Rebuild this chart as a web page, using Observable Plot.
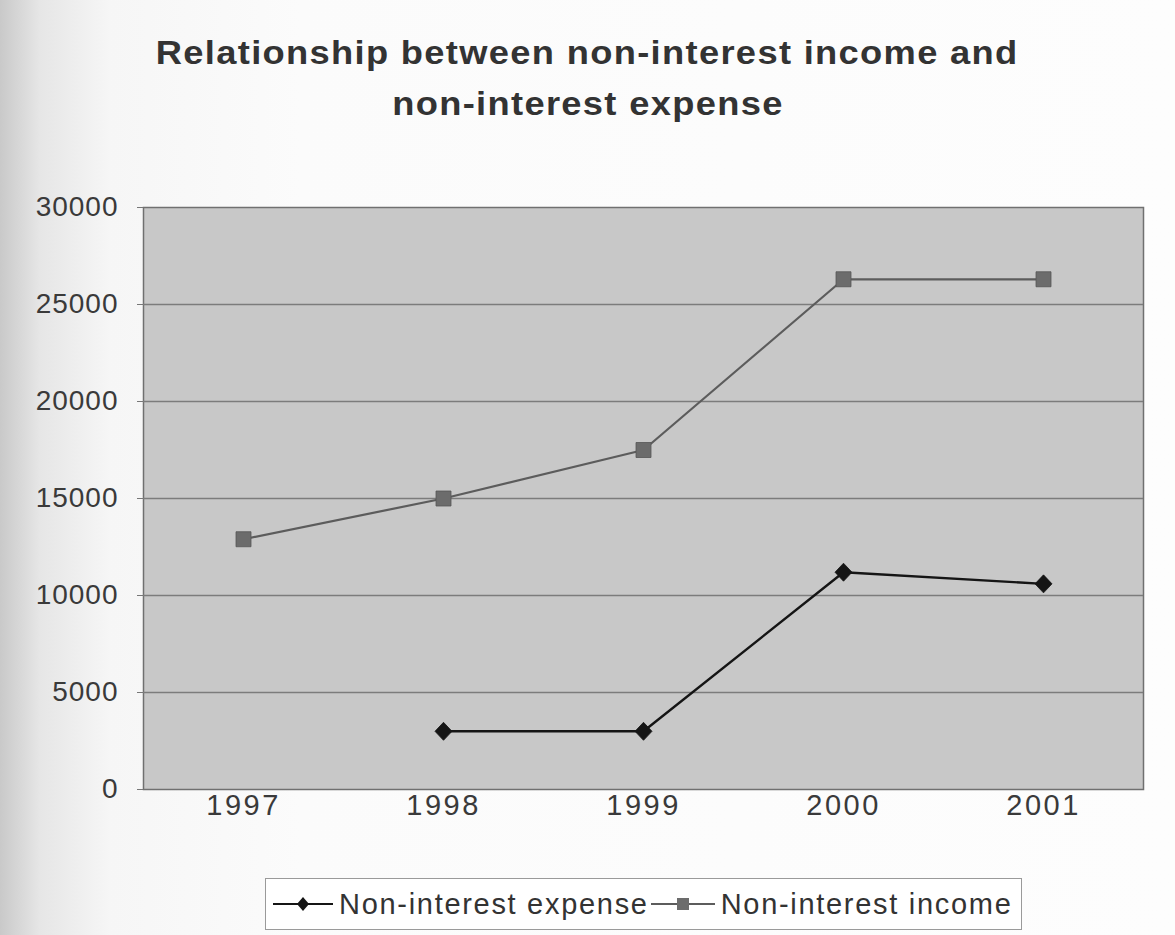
<!DOCTYPE html>
<html>
<head>
<meta charset="utf-8">
<script src="https://cdn.jsdelivr.net/npm/d3@7"></script>
<script src="https://cdn.jsdelivr.net/npm/@observablehq/plot@0.6"></script>
<style>
  html, body { margin: 0; padding: 0; }
  body {
    width: 1175px; height: 935px; position: relative; overflow: hidden;
    font-family: "Liberation Sans", Arial, sans-serif;
    background: linear-gradient(to right, #c9c9c9 0px, #e6e6e6 40px, #f6f6f6 110px, #fbfbfb 300px, #fdfdfd 100%);
  }
  #title {
    position: absolute; left: 0; top: 27px; width: 1175px; text-align: center;
    font-size: 33px; font-weight: bold; line-height: 51px; color: #333; letter-spacing: 1.2px;
  }
  #title span { display: inline-block; transform: scaleX(1.1); transform-origin: center; }
  #chart { position: absolute; left: 0; top: 175px; }
  #legend {
    position: absolute; left: 265px; top: 878px; width: 757px; height: 52px;
    border: 1px solid #9a9a9a; background: #fff; box-sizing: border-box;
    display: flex; align-items: center; font-size: 29px; color: #333;
  }
  #legend .item { display: flex; align-items: center; }
  #legend svg { display: block; }
</style>
</head>
<body>
<div id="title"><span>Relationship between non-interest income and</span><br><span>non-interest expense</span></div>
<div id="chart"></div>
<div id="legend"></div>
<script>
// Years on the category axis
const years = ["1997", "1998", "1999", "2000", "2001"];
// Non-interest expense (no figure reported for 1997)
const expense = [null, 3000, 3000, 11200, 10600];
// Non-interest income
const income = [12900, 15000, 17500, 26300, 26300];
// Value axis ticks
const yTicks = [0, 5000, 10000, 15000, 20000, 25000, 30000];

const seriesNames = ["Non-interest expense", "Non-interest income"];

const expenseRows = years.map((year, i) => ({year, value: expense[i]})).filter(d => d.value != null);
const incomeRows = years.map((year, i) => ({year, value: income[i]}));

// Marker shapes: a rotated square and a plain square
const diamond = {
  draw(ctx) {
    const w = 8.5, h = 9;
    ctx.moveTo(0, -h); ctx.lineTo(w, 0); ctx.lineTo(0, h); ctx.lineTo(-w, 0); ctx.closePath();
  }
};
const square = {
  draw(ctx) {
    const s = 7.5;
    ctx.moveTo(-s, -s); ctx.lineTo(s, -s); ctx.lineTo(s, s); ctx.lineTo(-s, s); ctx.closePath();
  }
};

const expenseColor = "#151515";
const incomeLine = "#5c5c5c";
const incomeFill = "#6c6c6c";

const chart = Plot.plot({
  width: 1175,
  height: 680,
  marginLeft: 143,
  marginRight: 32,
  marginTop: 32,
  marginBottom: 66,
  style: {
    fontFamily: "'Liberation Sans', Arial, sans-serif",
    fontSize: "28px",
    color: "#3a3a3a",
    background: "transparent",
    overflow: "visible"
  },
  x: {type: "point", domain: years, padding: 0.5, label: null},
  y: {domain: [0, 30000], label: null},
  marks: [
    Plot.frame({fill: "#c8c8c8", stroke: "#707070", strokeWidth: 1.5}),
    Plot.ruleY(yTicks.slice(1, -1), {stroke: "#7c7c7c", strokeWidth: 1.3}),
    Plot.axisY({ticks: yTicks, tickSize: 6, tickPadding: 19, tickFormat: d => String(d), stroke: "#777", fill: "#3a3a3a", label: null}),
    Plot.axisX({tickSize: 0, tickPadding: 5, fill: "#3a3a3a", label: null, fontSize: 29}),
    Plot.line(incomeRows, {x: "year", y: "value", stroke: incomeLine, strokeWidth: 2.2}),
    Plot.line(expenseRows, {x: "year", y: "value", stroke: expenseColor, strokeWidth: 2.4}),
    Plot.dot(incomeRows, {x: "year", y: "value", symbol: square, fill: incomeFill, stroke: "#555", strokeWidth: 0.8}),
    Plot.dot(expenseRows, {x: "year", y: "value", symbol: diamond, fill: expenseColor, stroke: expenseColor, strokeWidth: 0.8})
  ]
});
d3.select(chart).selectAll("g[aria-label='x-axis tick label'] text").attr("letter-spacing", "2.5px");
d3.select(chart).selectAll("g[aria-label='y-axis tick label'] text").attr("letter-spacing", "1px");
document.getElementById("chart").appendChild(chart);

// Legend: line + marker swatch for each series
const legend = d3.select("#legend");
const swatches = [
  {name: seriesNames[0], stroke: expenseColor, fill: expenseColor, shape: "diamond", w: 60, pad: 7},
  {name: seriesNames[1], stroke: incomeLine, fill: incomeFill, shape: "square", w: 64, pad: 2}
];
swatches.forEach(s => {
  const item = legend.append("div").attr("class", "item").style("margin-left", s.pad + "px");
  const svg = item.append("svg").attr("width", s.w).attr("height", 20);
  svg.append("line").attr("x1", 0).attr("x2", s.w).attr("y1", 10).attr("y2", 10)
    .attr("stroke", s.stroke).attr("stroke-width", 2);
  const c = s.w / 2;
  if (s.shape === "diamond") {
    svg.append("path").attr("d", `M${c},3L${c + 6},10L${c},17L${c - 6},10Z`).attr("fill", s.fill);
  } else {
    svg.append("rect").attr("x", c - 6).attr("y", 4).attr("width", 12).attr("height", 12).attr("fill", s.fill);
  }
  item.append("span").style("margin-left", "6px").style("letter-spacing", "1.7px").text(s.name);
});
</script>
</body>
</html>
